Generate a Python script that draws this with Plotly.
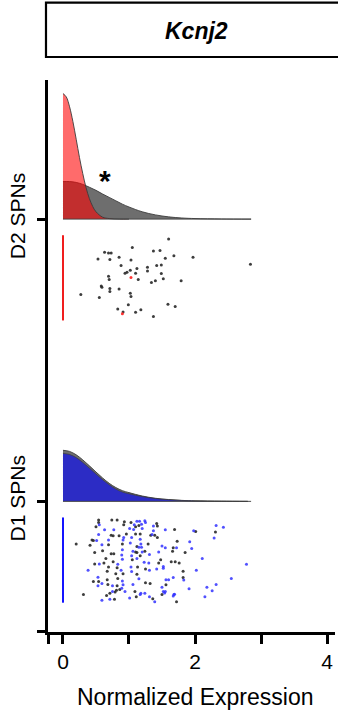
import plotly.graph_objects as go

# ---------------- data ----------------
gene = "Kcnj2"
groups = ["D1 SPNs", "D2 SPNs"]
group_rows = [1, 2]

# density curves (ridge heights, y-axis units)
d2_red_x = [0, 0.05, 0.1, 0.15, 0.2, 0.25, 0.3, 0.35, 0.4, 0.45, 0.5, 0.6, 0.7, 0.85, 1.0]
d2_red_h = [0.445, 0.433, 0.398, 0.346, 0.283, 0.218, 0.161, 0.111, 0.073, 0.045, 0.026, 0.007, 0.002, 0.0, 0.0]
d2_gray_x = [0, 0.1, 0.2, 0.3, 0.4, 0.5, 0.6, 0.7, 0.8, 0.9, 1.0, 1.2, 1.4, 1.6, 1.8, 2.0, 2.4, 2.85]
d2_gray_h = [0.133, 0.133, 0.130, 0.123, 0.113, 0.102, 0.089, 0.077, 0.065, 0.053, 0.043, 0.026, 0.015, 0.008, 0.004, 0.002, 0.0005, 0.0]

d1_x = [0, 0.1, 0.2, 0.3, 0.4, 0.5, 0.6, 0.7, 0.8, 0.9, 1.0, 1.2, 1.4, 1.6, 1.8, 2.0, 2.4, 2.8]
d1_blue_h = [0.170, 0.166, 0.155, 0.138, 0.118, 0.097, 0.077, 0.059, 0.044, 0.033, 0.027, 0.017, 0.010, 0.006, 0.003, 0.0015, 0.0005, 0.0]
d1_gray_h = [0.181, 0.177, 0.165, 0.147, 0.126, 0.104, 0.083, 0.064, 0.049, 0.038, 0.031, 0.019, 0.011, 0.0065, 0.0035, 0.002, 0.0006, 0.0]

# D2 cells: expression and jitter (-1..1 within strip)
d2_k_x = [1.60, 1.05, 0.63, 0.69, 0.73, 1.37, 1.47, 1.68, 1.97, 0.53, 0.71, 0.85, 1.03, 1.55, 2.84,
          0.88, 1.28, 1.42, 1.49, 1.12, 1.28, 1.02, 0.97, 0.94, 1.10, 1.49, 0.69, 0.70, 1.14, 1.52,
          1.40, 1.34, 1.79, 0.58, 0.59, 0.71, 0.85, 0.71, 0.27, 1.02, 0.55, 1.03, 0.99, 1.59, 1.70,
          0.83, 0.91, 1.10, 1.18, 1.37]
d2_k_j = [0.91, 0.71, 0.60, 0.58, 0.58, 0.63, 0.64, 0.52, 0.48, 0.44, 0.43, 0.48, 0.42, 0.46, 0.32,
          0.29, 0.25, 0.29, 0.30, 0.22, 0.16, 0.18, 0.13, 0.11, 0.11, 0.10, 0.04, -0.04, -0.04, -0.02,
          -0.07, -0.11, -0.07, -0.19, -0.22, -0.25, -0.26, -0.32, -0.39, -0.36, -0.46, -0.44, -0.63, -0.62, -0.67,
          -0.73, -0.80, -0.81, -0.75, -0.91]
d2_r_x = [1.03, 0.90]
d2_r_j = [0.01, -0.84]

# D1 cells
d1_k_x = [0.54, 0.54, 0.74, 0.82, 0.93, 0.92, 1.03, 1.15, 1.10, 1.42, 1.43, 0.50, 1.69, 2.01, 2.31,
          0.73, 0.76, 0.85, 0.96, 1.10, 1.17, 1.33, 1.39, 1.43, 0.44, 0.46, 0.20, 0.41, 0.69, 0.90,
          1.29, 1.73, 1.12, 1.67, 0.60, 1.10, 1.12, 1.24, 1.66, 1.85, 0.48, 0.73, 0.77, 1.17, 0.65,
          0.76, 1.05, 1.48, 0.48, 0.62, 1.45, 1.64, 1.70, 1.76, 0.69, 0.82, 1.13, 1.25, 0.67, 1.82,
          0.80, 1.12, 0.91, 0.67, 0.83, 1.82, 0.46, 0.54, 1.25, 1.32, 0.68, 0.82, 1.56, 0.86, 0.81,
          0.31, 0.66, 0.71, 0.79, 1.09, 1.50, 0.78, 1.11, 1.36, 1.72]
d1_k_j = [0.94, 0.88, 0.94, 0.94, 0.90, 0.83, 0.88, 0.81, 0.78, 0.86, 0.80, 0.78, 0.72, 0.67, 0.66,
          0.58, 0.57, 0.57, 0.61, 0.61, 0.61, 0.58, 0.58, 0.53, 0.47, 0.46, 0.38, 0.35, 0.36, 0.38,
          0.38, 0.44, 0.32, 0.29, 0.22, 0.19, 0.18, 0.21, 0.21, 0.18, 0.18, 0.15, 0.15, 0.10, 0.04,
          -0.04, 0.01, 0.01, -0.09, -0.07, -0.07, -0.04, -0.04, -0.07, -0.16, -0.18, -0.16, -0.21, -0.26, -0.26,
          -0.32, -0.33, -0.32, -0.46, -0.43, -0.41, -0.50, -0.50, -0.53, -0.55, -0.57, -0.60, -0.58, -0.69, -0.71,
          -0.81, -0.83, -0.78, -0.75, -0.74, -0.81, -0.92, -0.86, -0.91, -0.98]
d1_b_x = [0.55, 1.08, 1.12, 1.16, 1.19, 1.24, 1.25, 1.37, 2.32, 2.43, 0.63, 0.77, 1.01, 1.07, 1.20,
          1.37, 1.55, 1.98, 0.54, 1.35, 1.04, 0.92, 2.29, 0.51, 0.69, 0.91, 1.17, 0.59, 1.02, 1.18,
          1.92, 1.15, 1.19, 1.50, 1.55, 1.72, 1.95, 0.90, 1.06, 1.20, 1.45, 0.89, 0.90, 1.04, 1.31,
          1.12, 2.11, 0.55, 0.83, 1.23, 1.30, 2.78, 1.03, 1.42, 1.52, 1.52, 0.38, 0.88, 1.04, 1.31,
          2.02, 0.53, 0.90, 1.15, 1.56, 1.60, 1.67, 1.83, 2.55, 0.53, 0.59, 0.75, 0.91, 1.06, 1.50,
          2.18, 2.32, 1.91, 0.89, 2.26, 0.75, 0.94, 1.18, 1.17, 1.24, 1.52, 1.54, 1.55, 1.68, 1.67,
          1.69, 1.31, 0.59, 0.71, 1.01, 1.39, 2.15]
d1_b_j = [0.83, 0.83, 0.91, 0.91, 0.84, 0.92, 0.88, 0.80, 0.81, 0.77, 0.71, 0.71, 0.74, 0.72, 0.74,
          0.69, 0.71, 0.69, 0.60, 0.60, 0.53, 0.53, 0.52, 0.46, 0.47, 0.47, 0.49, 0.36, 0.40, 0.38,
          0.43, 0.30, 0.30, 0.33, 0.29, 0.29, 0.27, 0.24, 0.21, 0.19, 0.19, 0.12, 0.02, 0.10, 0.13,
          0.04, 0.04, -0.09, -0.10, -0.05, -0.07, -0.10, -0.16, -0.21, -0.15, -0.19, -0.24, -0.24, -0.27, -0.24,
          -0.24, -0.40, -0.49, -0.44, -0.46, -0.46, -0.41, -0.47, -0.43, -0.60, -0.55, -0.60, -0.58, -0.57, -0.64,
          -0.64, -0.57, -0.67, -0.66, -0.72, -0.74, -0.74, -0.78, -0.81, -0.78, -0.74, -0.77, -0.74, -0.81, -0.84,
          -0.80, -0.86, -0.94, -0.92, -0.89, -0.98, -0.86]

x_tick_vals = [0, 1, 2, 3, 4]
x_tick_text = ["0", "", "2", "", "4"]
x_title = "Normalized Expression"
star_x, star_y = 0.64, 2.136

# ---------------- layout constants ----------------
STRIP_OFF = -0.208   # strip center relative to the row
STRIP_HALF = 0.151   # half height of the jitter strip
FONT = "Liberation Sans, Arial, sans-serif"
X_RANGE = [-0.227, 4.121]
Y_RANGE = [0.5372, 2.4929]

fig = go.Figure()


def add_density(xs, hs, row, fill, line):
    fig.add_trace(go.Scatter(x=xs, y=[row] * len(xs), mode="lines",
                             line=dict(width=0, color="rgba(0,0,0,0)"),
                             hoverinfo="skip", showlegend=False))
    fig.add_trace(go.Scatter(x=xs, y=[row + h for h in hs], mode="lines",
                             line=dict(color=line, width=1, shape="spline", smoothing=1.0),
                             fill="tonexty", fillcolor=fill,
                             hoverinfo="skip", showlegend=False))


def strip_y(row, js):
    return [row + STRIP_OFF + j * STRIP_HALF for j in js]


# D2 densities
add_density(d2_gray_x, d2_gray_h, 2, "rgb(110,110,110)", "rgba(60,60,60,0.9)")
add_density(d2_red_x, d2_red_h, 2, "rgba(255,0,0,0.58)", "rgba(60,60,60,0.9)")
# D1 densities
add_density(d1_x, d1_gray_h, 1, "rgb(110,110,110)", "rgba(60,60,60,0.9)")
add_density(d1_x, d1_blue_h, 1, "rgba(0,0,255,0.6)", "rgba(60,60,60,0.7)")

# baselines
for row in group_rows:
    fig.add_trace(go.Scatter(x=[0, 2.85], y=[row, row], mode="lines",
                             line=dict(color="rgba(60,60,60,0.9)", width=1),
                             hoverinfo="skip", showlegend=False))

# zero-expression lines
fig.add_trace(go.Scatter(x=[0, 0], y=strip_y(2, [-1, 1]), mode="lines",
                         line=dict(color="rgb(240,30,30)", width=2), showlegend=False))
fig.add_trace(go.Scatter(x=[0, 0], y=strip_y(1, [-1, 1]), mode="lines",
                         line=dict(color="rgb(20,20,255)", width=2), showlegend=False))

# points
pt = dict(mode="markers", showlegend=False)
fig.add_trace(go.Scatter(x=d2_k_x, y=strip_y(2, d2_k_j), marker=dict(size=3, color="rgba(40,40,40,0.9)"), **pt))
fig.add_trace(go.Scatter(x=d2_r_x, y=strip_y(2, d2_r_j), marker=dict(size=3, color="rgba(255,40,40,0.95)"), **pt))
fig.add_trace(go.Scatter(x=d1_k_x, y=strip_y(1, d1_k_j), marker=dict(size=3, color="rgba(40,40,40,0.9)"), **pt))
fig.add_trace(go.Scatter(x=d1_b_x, y=strip_y(1, d1_b_j), marker=dict(size=3, color="rgba(50,50,255,0.85)"), **pt))

# asterisk
fig.add_annotation(x=star_x, y=star_y, xref="x", yref="y", text="<b>*</b>", showarrow=False,
                   font=dict(family=FONT, size=30, color="black"), xanchor="center", yanchor="middle")

# strip title box
fig.add_shape(type="rect", xref="paper", yref="paper", x0=-0.007, x1=1.2, y0=1.0417, y1=1.1400,
              line=dict(color="black", width=2.2), fillcolor="white", layer="above")
fig.add_annotation(xref="paper", yref="paper", x=0.519, y=1.0888, text="<b><i>" + gene + "</i></b>",
                   showarrow=False, font=dict(family=FONT, size=23, color="black"),
                   xanchor="center", yanchor="middle")

# x-axis title
fig.add_annotation(xref="paper", yref="paper", x=0.512, y=-0.1178, text=x_title, showarrow=False,
                   font=dict(family=FONT, size=23, color="black"), xanchor="center", yanchor="middle")

fig.update_layout(
    width=338, height=713,
    margin=dict(l=48, r=3, t=80, b=81),
    plot_bgcolor="white", paper_bgcolor="white",
    font=dict(family=FONT, color="black"),
    showlegend=False,
)
fig.update_xaxes(range=X_RANGE, showgrid=False, zeroline=False,
                 showline=True, linecolor="black", linewidth=2.7,
                 ticks="outside", ticklen=9, tickwidth=2.7, tickcolor="black",
                 tickvals=[X_RANGE[0] + 0.003] + x_tick_vals, ticktext=[""] + x_tick_text,
                 tickfont=dict(family=FONT, size=21, color="black"))
fig.update_yaxes(range=Y_RANGE, showgrid=False, zeroline=False,
                 showline=True, linecolor="black", linewidth=2.7,
                 ticks="outside", ticklen=8, tickwidth=2.7, tickcolor="black",
                 tickvals=[Y_RANGE[0] + 0.002] + group_rows, ticktext=[""] + groups,
                 tickangle=-90, ticklabelstandoff=4,
                 tickfont=dict(family=FONT, size=21, color="black"))

fig.write_html("out.html", config={"displayModeBar": False},
               post_script="document.body.style.margin='0';document.body.style.overflow='hidden';")
